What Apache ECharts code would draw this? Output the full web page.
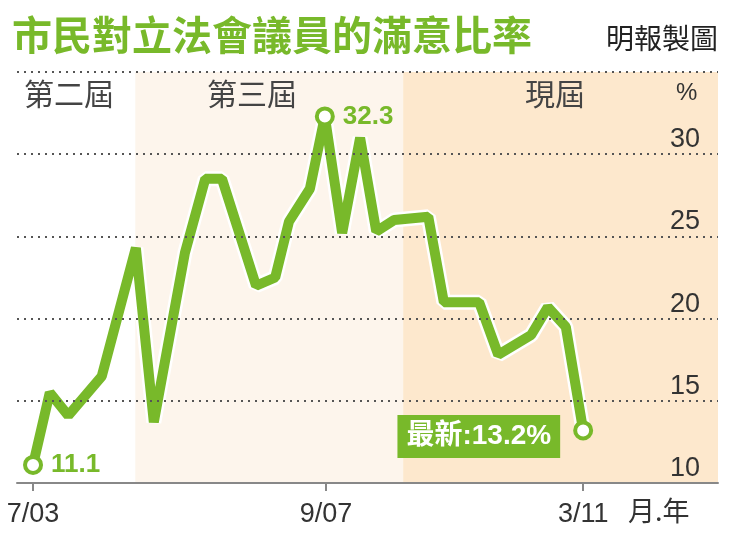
<!DOCTYPE html>
<html>
<head>
<meta charset="utf-8">
<script src="https://cdn.jsdelivr.net/npm/echarts@6/dist/echarts.min.js"></script>
<style>
  html, body { margin: 0; padding: 0; background: #fff; }
  #chart { width: 732px; height: 540px; }
</style>
</head>
<body>
<div id="chart"></div>
<script>
// months counted from 7/03
const months = [0, 2.8, 5.9, 11.5, 17.2, 20.2, 25.4, 28.8, 31.6, 37.3, 40.5, 42.8, 46.3, 48.8,
  51.7, 54.7, 57.4, 60.4, 66.1, 68.7, 74.6, 77.8, 83.3, 86.1, 89.1, 92]
const rates = [11.1, 15.5, 14.1, 16.5, 24.3, 13.7, 24.0, 28.5, 28.5, 22.0, 22.5, 25.9, 27.9, 32.3,
  25.2, 31.0, 25.3, 26.0, 26.2, 21.0, 21.0, 17.8, 19.0, 20.7, 19.5, 13.2]
const tickMonths = [0, 49, 92]
const tickLabels = ['7/03', '9/07', '3/11']
const yTicks = [10, 15, 20, 25, 30]
// term boundaries (months)
const termStart3 = 17.1
const termStartNow = 61.9

const green = '#78b92a'
const sans = '"Liberation Sans", "Noto Sans CJK TC", sans-serif'
const cjk = '"Noto Sans CJK TC", sans-serif'

const chart = echarts.init(document.getElementById('chart'))

const last = rates.length - 1
const peak = rates.indexOf(Math.max(...rates))
const xMin = -2.68, xMax = 114.55

const lineData = months.map((m, i) => {
  const item = { value: [m, rates[i]], symbol: 'none' }
  if (i === 0 || i === peak) {
    item.symbol = 'circle'
    item.label = {
      show: true, position: 'right', distance: 8,
      formatter: String(rates[i]), color: green, fontWeight: 'bold', fontSize: 26, fontFamily: sans
    }
  }
  if (i === last) {
    item.symbol = 'circle'
    item.label = {
      show: true, position: 'left', distance: 13, offset: [0, 6],
      formatter: '最新:' + rates[i] + '%', color: '#fff', fontWeight: 'bold', fontSize: 28,
      fontFamily: sans, backgroundColor: green, padding: [8, 9, 7, 9]
    }
  }
  return item
})

const text = (left, top, str, font, fill) =>
  ({ type: 'text', left, top, z: 10, style: { text: str, fill, font } })

const option = {
  animation: false,
  grid: { left: 17, right: 14, top: 72, bottom: 57 },
  xAxis: {
    type: 'value', min: xMin, max: xMax, z: 5,
    splitLine: { show: false },
    axisLine: { lineStyle: { color: '#888', width: 2 } },
    axisTick: { customValues: tickMonths, length: 8, lineStyle: { color: '#888', width: 2 } },
    axisLabel: {
      customValues: tickMonths, margin: 18, fontSize: 27, color: '#333', fontFamily: sans,
      formatter: v => tickLabels[tickMonths.indexOf(v)]
    }
  },
  yAxis: {
    type: 'value', position: 'right', min: 10, max: 35, interval: 5, z: 5,
    axisLine: { show: false },
    axisTick: { show: false },
    splitLine: { lineStyle: { type: [2, 5], color: '#555', width: 2 } },
    axisLabel: {
      inside: true, margin: 18, fontSize: 27, color: '#333', fontFamily: sans,
      verticalAlign: 'bottom', padding: [0, 0, 1, 0],
      formatter: v => yTicks.includes(v) ? String(v) : ''
    }
  },
  series: [
    {
      type: 'line', silent: true, symbol: 'none', z: 1,
      data: months.map((m, i) => [m, rates[i]]),
      lineStyle: { color: '#fff', width: 15, join: 'bevel' },
      markArea: {
        silent: true,
        data: [
          [{ xAxis: termStart3, itemStyle: { color: '#fdf5ec' } }, { xAxis: termStartNow }],
          [{ xAxis: termStartNow, itemStyle: { color: '#fde8cd' } }, { xAxis: xMax }]
        ]
      }
    },
    {
      type: 'line', z: 2, data: lineData,
      symbolSize: 16,
      lineStyle: { color: green, width: 10, join: 'bevel' },
      itemStyle: { color: '#fff', borderColor: green, borderWidth: 4 }
    }
  ],
  graphic: [
    text(12, 15, '市民對立法會議員的滿意比率', 'bold 40px ' + cjk, green),
    { type: 'text', right: 14, top: 24, z: 10, style: { text: '明報製圖', fill: '#222', font: '28px ' + cjk } },
    text(24, 79, '第二屆', '30px ' + cjk, '#444'),
    text(207, 79, '第三屆', '30px ' + cjk, '#444'),
    text(525, 79, '現屆', '30px ' + cjk, '#444'),
    text(676, 81, '%', '24px ' + sans, '#333'),
    text(628, 497, '月.年', '27px ' + cjk, '#333')
  ]
}

chart.setOption(option)
</script>
</body>
</html>
